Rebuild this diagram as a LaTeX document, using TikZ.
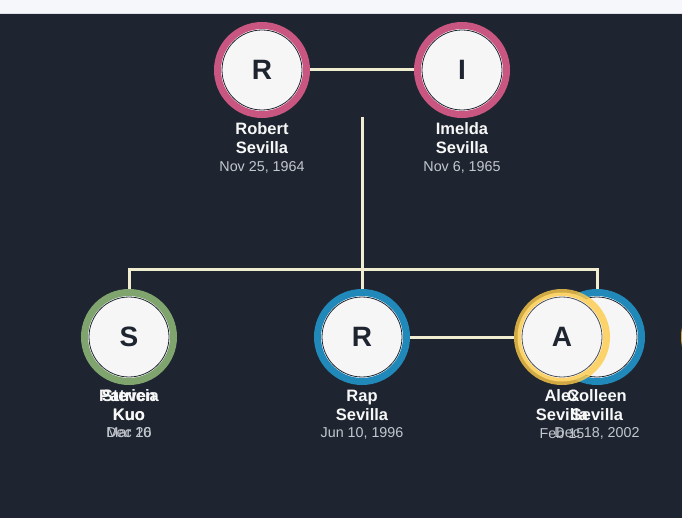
\documentclass[tikz,border=0pt]{standalone}
\usepackage{xcolor}
\usepackage{fontspec}
\setmainfont{Liberation Sans}
\usetikzlibrary{calc}

\definecolor{bgdark}{HTML}{1E2530}
\definecolor{topbar}{HTML}{F6F7FA}
\definecolor{topline}{HTML}{DDE1E7}
\definecolor{facefill}{HTML}{F6F6F6}
\definecolor{linecream}{HTML}{F0EDD1}
\definecolor{ringpink}{HTML}{C95680}
\definecolor{ringblue}{HTML}{2189B9}
\definecolor{ringgreen}{HTML}{7FA46E}
\definecolor{ringyellow}{HTML}{FECB49}
\definecolor{namewhite}{HTML}{F7F7F7}
\definecolor{dategrey}{HTML}{C3C7CE}

\begin{document}
\begin{tikzpicture}[x=1pt,y=-1pt]
        \tikzset{person/.style={circle, draw=#1, line width=7pt, fill=facefill,
            minimum size=89pt, inner sep=0pt, text=bgdark,
            font=\fontsize{28}{28}\selectfont\bfseries,
            path picture={
                \draw[white, line width=1.4pt] (path picture bounding box.center) circle (41.1);
                \draw[bgdark, line width=0.8pt] (path picture bounding box.center) circle (40);}},
            link/.style={draw=linecream, line width=3pt},
            who/.style={text=namewhite, font=\fontsize{16.5}{19}\selectfont\bfseries, align=center},
            born/.style={text=dategrey, font=\fontsize{14.3}{16}\selectfont}}

        \useasboundingbox (0, 0) rectangle (682, 518);
        \fill[bgdark] (0, 0) rectangle (682, 518);
        \fill[topbar] (0, 0) rectangle (682, 13);
        \draw[topline, line width=1pt] (0, 13.5) -- (682, 13.5);

        % parents
        \node[person=ringpink] (robert) at (262, 70) {R};
        \node[person=ringpink] (imelda) at (462, 70) {I};
        \node[who] (robertname) at (262, 138) {Robert\\Sevilla};
        \node[who] (imeldaname) at (462, 138) {Imelda\\Sevilla};
        \node[born] (robertdate) at (262, 167) {Nov 25, 1964};
        \node[born] (imeldadate) at (462, 167) {Nov 6, 1965};

        % children
        \node[person=ringgreen] (steven) at (129, 337) {S};
        \node[person=ringblue] (rap) at (362, 337) {R};
        \node[person=ringblue] (colleen) at (597, 337) {C};
        \node[person=ringyellow, draw opacity=.8] (alex) at (562, 337) {A};
        \node[person=ringyellow, draw opacity=.8] (nextkid) at (729, 337) {};

        \node[who] (patricianame) at (129, 405) {Patricia\\Kuo};
        \node[who] (stevenname) at (129, 405) {Steven\\Kuo};
        \node[born] (patriciadate) at (129, 433) {Mar 10};
        \node[born] (stevendate) at (129, 433) {Dec 26};
        \node[who] (rapname) at (362, 405) {Rap\\Sevilla};
        \node[born] (rapdate) at (362, 433) {Jun 10, 1996};
        \node[who] (alexname) at (562, 405) {Alex\\Sevilla};
        \node[who] (colleenname) at (597, 405) {Colleen\\Sevilla};
        \node[born] (alexdate) at (562, 433) {Feb 15};
        \node[born] (colleendate) at (597, 433) {Dec 18, 2002};

        \coordinate (fam) at (362, 117);
        \coordinate (jn) at (362, 270);

        \draw[link] (robert) -- (imelda);
        \draw[link] (fam) -- (jn) -- (rap.north);
        \draw[link] (steven.north) |- (jn) -| (colleen.north);
        \draw[link] (rap) -- (alex);

    \end{tikzpicture}
\end{document}
